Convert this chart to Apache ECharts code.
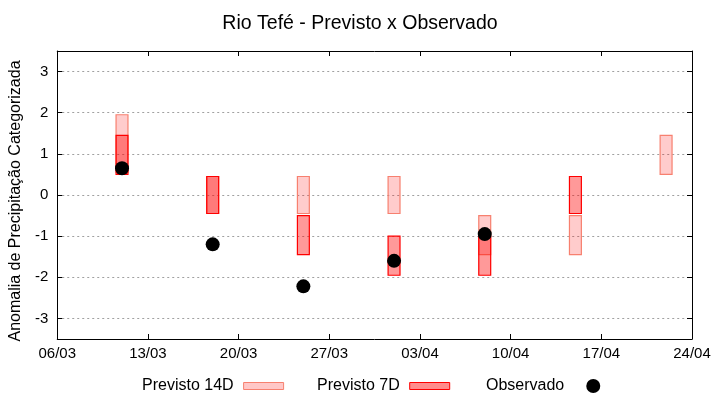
<!DOCTYPE html>
<html>
<head>
<meta charset="utf-8">
<script src="https://cdn.jsdelivr.net/npm/echarts@6/dist/echarts.min.js"></script>
<style>html,body{margin:0;padding:0;background:#fff}#c{width:720px;height:400px}</style>
</head>
<body>
<div id="c"></div>
<script>
var startDate = '06/03';
var tickLabels = ['06/03','13/03','20/03','27/03','03/04','10/04','17/04','24/04'];
var yTicks = [-3, -2, -1, 0, 1, 2, 3];
var prev14Dates = ['11/03','18/03','25/03','01/04','08/04','15/04','22/04'];
var prev14Low  = [0.55, -0.45, -0.45, -0.45, -1.45, -1.45, 0.5];
var prev14High = [1.95,  0.45,  0.45,  0.45, -0.5,  -0.5,  1.45];
var prev7Dates = ['11/03','18/03','25/03','01/04','08/04','15/04'];
var prev7Low  = [0.5, -0.45, -1.45, -1.95, -1.95, -0.45];
var prev7High = [1.45, 0.45, -0.5,  -1.0,  -1.0,   0.45];
var obsDates = ['11/03','18/03','25/03','01/04','08/04'];
var obsValues = [0.65, -1.2, -2.22, -1.6, -0.95];

function dayOffset(s){
  var p = s.split('/'), q = startDate.split('/');
  var t = Date.UTC(2024, +p[1]-1, +p[0]);
  var t0 = Date.UTC(2024, +q[1]-1, +q[0]);
  return Math.round((t - t0)/86400000);
}
function boxData(dates, lo, hi){
  return dates.map(function(d,i){ return [dayOffset(d), lo[i], hi[i]]; });
}
function makeRender(fill, stroke){
  return function(params, api){
    var x = api.value(0), lo = api.value(1), hi = api.value(2);
    var p1 = api.coord([x - 0.46, hi]);
    var p2 = api.coord([x + 0.46, lo]);
    return {
      type: 'rect',
      shape: {x: p1[0], y: p1[1], width: p2[0]-p1[0], height: p2[1]-p1[1]},
      style: {fill: fill, stroke: stroke, lineWidth: 1.2}
    };
  };
}
var fill14 = 'rgba(255,0,0,0.2)', stroke14 = '#f7806f';
var fill7 = 'rgba(255,0,0,0.4)', stroke7 = '#ff0000';
var font = 'Liberation Sans, Arial, sans-serif';

var chart = echarts.init(document.getElementById('c'), null, {renderer:'canvas'});
var tickStyle = {show: true, inside: true, length: 5, lineStyle: {color: '#000'}};
var lineStyle = {show: true, onZero: false, lineStyle: {color: '#000', width: 1}};
chart.setOption({
  animation: false,
  backgroundColor: '#fff',
  title: {text: 'Rio Tefé - Previsto x Observado', left: 'center', top: 9,
    textStyle: {fontFamily: font, fontSize: 19.5, fontWeight: 'normal', color: '#000'}},
  grid: {left: 55, right: 28, top: 51, bottom: 61, containLabel: false},
  legend: [
    {data: [{name: 'Previsto 14D', icon: 'rect', itemStyle: {color: 'rgba(255,0,0,0.22)', borderColor: stroke14, borderWidth: 1}}],
     left: 137, top: 373, align: 'right', itemWidth: 40, itemHeight: 7, itemGap: 8,
     textStyle: {fontFamily: font, fontSize: 16, color: '#000', padding: [0, 5, 0, 0]}},
    {data: [{name: 'Previsto 7D', icon: 'rect', itemStyle: {color: 'rgba(255,0,0,0.45)', borderColor: stroke7, borderWidth: 1}}],
     left: 312, top: 373, align: 'right', itemWidth: 40, itemHeight: 7, itemGap: 8,
     textStyle: {fontFamily: font, fontSize: 16, color: '#000', padding: [0, 5, 0, 0]}},
    {data: [{name: 'Observado', icon: 'circle', itemStyle: {color: '#000', opacity: 1}}],
     left: 481, top: 373, align: 'right', itemWidth: 14, itemHeight: 14, itemGap: 8,
     textStyle: {fontFamily: font, fontSize: 16, color: '#000', padding: [0, 17, 0, 0]}}
  ],
  xAxis: [
    {type: 'value', min: 0, max: 49, interval: 7, position: 'bottom',
      splitLine: {show: false}, axisLine: lineStyle, axisTick: tickStyle,
      axisLabel: {margin: 7, fontFamily: font, fontSize: 15, color: '#000',
        formatter: function(v){ return tickLabels[Math.round(v/7)] || ''; }}},
    {type: 'value', min: 0, max: 49, interval: 7, position: 'top',
      splitLine: {show: false}, axisLabel: {show: false}, axisLine: lineStyle, axisTick: tickStyle}
  ],
  yAxis: [
    {type: 'value', min: -3.5, max: 3.5, position: 'left',
      name: 'Anomalia de Precipitação Categorizada', nameLocation: 'middle', nameGap: 25,
      nameTextStyle: {fontFamily: font, fontSize: 16, color: '#000', padding: [0, 12, 0, 0]},
      splitLine: {show: true, showMinLine: true, showMaxLine: true,
        lineStyle: {color: '#a0a0a0', type: [2, 3], width: 1}},
      axisLabel: {margin: 9, fontFamily: font, fontSize: 15, color: '#000', customValues: yTicks,
        formatter: function(v){ return String(Math.round(v)); }},
      axisTick: {show: true, inside: true, length: 5, lineStyle: {color: '#000'}, customValues: yTicks},
      axisLine: lineStyle},
    {type: 'value', min: -3.5, max: 3.5, position: 'right',
      splitLine: {show: false}, axisLabel: {show: false},
      axisLine: lineStyle,
      axisTick: {show: true, inside: true, length: 5, lineStyle: {color: '#000'}, customValues: yTicks}}
  ],
  series: [
    {name: 'Previsto 14D', type: 'custom', renderItem: makeRender(fill14, stroke14),
     data: boxData(prev14Dates, prev14Low, prev14High), encode: {x: 0, y: [1, 2]},
     itemStyle: {color: 'rgba(255,0,0,0.22)'}, z: 2},
    {name: 'Previsto 7D', type: 'custom', renderItem: makeRender(fill7, stroke7),
     data: boxData(prev7Dates, prev7Low, prev7High), encode: {x: 0, y: [1, 2]},
     itemStyle: {color: 'rgba(255,0,0,0.45)'}, z: 3},
    {name: 'Observado', type: 'scatter', symbol: 'circle', symbolSize: 14,
     itemStyle: {color: '#000', opacity: 1}, z: 4,
     data: obsDates.map(function(d,i){ return [dayOffset(d), obsValues[i]]; })}
  ]
});
</script>
</body>
</html>
